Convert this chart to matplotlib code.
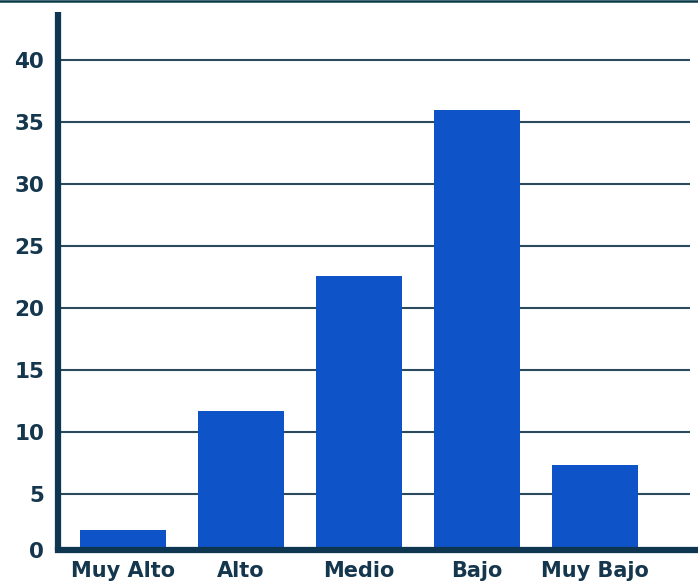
import numpy as np
import matplotlib.pyplot as plt
from matplotlib.lines import Line2D

categories = ['Muy Alto', 'Alto', 'Medio', 'Bajo', 'Muy Bajo']
values = [2.1, 11.7, 22.6, 36.0, 7.3]
tick_values = [0, 5, 10, 15, 20, 25, 30, 35, 40]
tick_labels = [str(v) for v in tick_values]

bar_color = '#0f53c8'
axis_color = '#0f3650'
grid_color = '#2b4a5d'
text_color = '#15374e'

W, H = 698, 585
fig = plt.figure(figsize=(W / 100, H / 100), dpi=100)

# axes box in pixels (left spine at x=58, x axis at y=549.5, top at y=12)
left, right = 58 / W, 1.0
bottom, top = (H - 549.5) / H, (H - 12) / H
ax = fig.add_axes([left, bottom, right - left, top - bottom])

ymin, ymax = 0.52, 43.9
ax.set_ylim(ymin, ymax)
ax.set_xlim(-0.55, 4.87)

x = np.arange(len(categories))
ax.bar(x, np.array(values) - ymin, bottom=ymin, width=0.73,
       color=bar_color, zorder=3)

# horizontal grid lines, stopping a little before the right edge
grid_ticks = [v for v in tick_values if v > 0]
ax.hlines(grid_ticks, 0, 0.988, transform=ax.get_yaxis_transform(),
          color=grid_color, linewidth=1.5, zorder=1)

for s in ['top', 'right']:
    ax.spines[s].set_visible(False)
for s in ['left', 'bottom']:
    ax.spines[s].set_color(axis_color)
    ax.spines[s].set_linewidth(4.5)
    ax.spines[s].set_zorder(4)
ax.spines['left'].set_capstyle('butt')

# zero label sits on the x axis line
ax.set_yticks([ymin] + grid_ticks)
ax.set_yticklabels(tick_labels)
ax.set_xticks(x)
ax.set_xticklabels(categories)
ax.tick_params(axis='both', length=0, colors=text_color)
ax.tick_params(axis='y', pad=10)
ax.tick_params(axis='x', pad=8)
for lab in ax.get_yticklabels():
    lab.set_fontsize(15.5)
    lab.set_fontweight('heavy')
    lab.set_fontfamily('DejaVu Sans')
for lab in ax.get_xticklabels():
    lab.set_fontsize(15)
    lab.set_fontweight('heavy')
    lab.set_fontfamily('DejaVu Sans')

# thin dark band at the top edge
fig.add_artist(Line2D([0, 1], [1 - 1 / H, 1 - 1 / H], color='#0b3a4a',
                      linewidth=1.8, transform=fig.transFigure))

fig.savefig('out.png', dpi=100)
